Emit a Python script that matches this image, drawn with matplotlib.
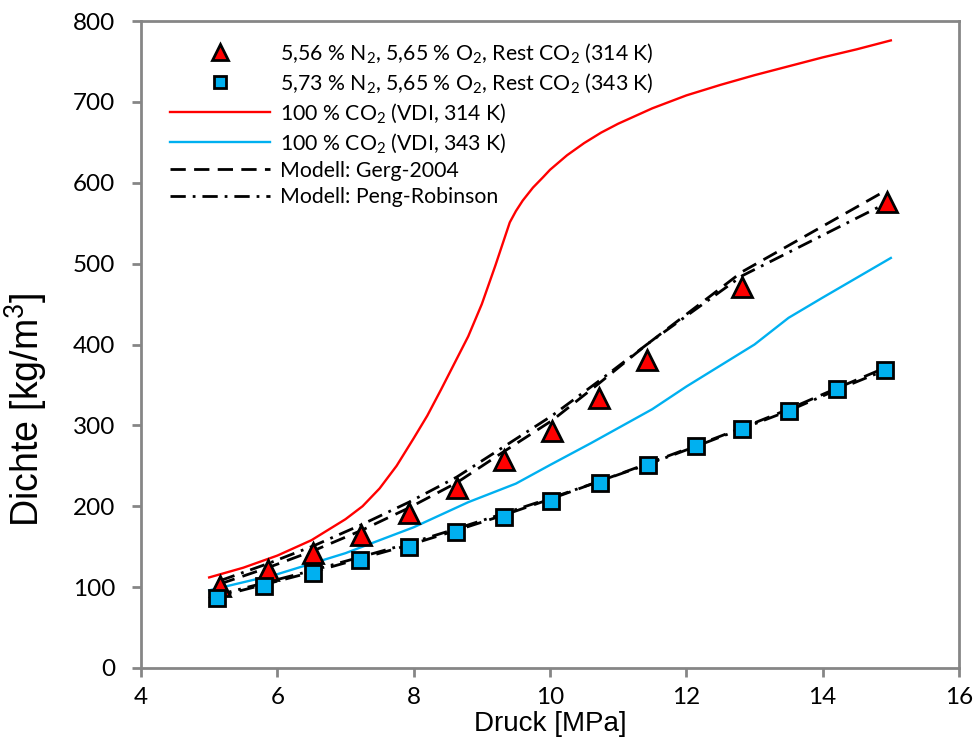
import matplotlib
matplotlib.use('Agg')
import matplotlib.pyplot as plt

# measured points, 314 K mixture (triangles)
p_314 = [5.16, 5.86, 6.53, 7.23, 7.93, 8.63, 9.33, 10.03, 10.72, 11.42, 12.82, 14.94]
rho_314 = [102, 121, 142, 165, 192, 222, 257, 293, 334, 381, 471, 576]
# model curves at the 314 K points
gerg_314 = [104, 124, 145, 170, 198, 229, 268, 306, 352, 400, 490, 591]
pr_314 = [108, 129, 151, 177, 205, 236, 274, 312, 355, 400, 485, 575]

# measured points, 343 K mixture (squares)
p_343 = [5.11, 5.80, 6.53, 7.21, 7.93, 8.62, 9.32, 10.01, 10.73, 11.44, 12.14, 12.82, 13.50, 14.21, 14.91]
rho_343 = [86, 101, 117, 133, 150, 168, 187, 207, 229, 251, 274, 295, 318, 345, 369]
gerg_343 = [88, 103, 119, 135, 152, 170, 189, 209, 231, 253, 275, 297, 320, 346, 371]
pr_343 = [90, 105, 121, 137, 154, 172, 191, 210, 231, 252, 274, 296, 318, 344, 368]

# pure CO2 (VDI)
p_vdi314 = [5.0, 5.5, 6.0, 6.5, 7.0, 7.25, 7.5, 7.75, 8.0, 8.2, 8.4, 8.6, 8.8, 9.0, 9.2, 9.41,
            9.5, 9.6, 9.75, 9.9, 10.0, 10.25, 10.5, 10.75, 11.0, 11.5, 12.0, 12.5, 13.0, 13.5,
            14.0, 14.5, 15.0]
rho_vdi314 = [112, 124, 139, 158, 184, 200, 222, 250, 284, 312, 344, 377, 410, 450, 498, 551,
              565, 578, 594, 607, 616, 634, 649, 662, 673, 692, 708, 721, 733, 744,
              755, 765, 776]
p_vdi343 = [5.0, 6.0, 7.0, 8.0, 8.8, 9.5, 10.0, 10.6, 11.5, 12.0, 13.0, 13.5, 14.0, 15.0]
rho_vdi343 = [96, 116, 142, 174, 205, 228, 251, 278, 320, 348, 400, 433, 458, 507]

lab_tri = '5,56 % N$_2$, 5,65 % O$_2$, Rest CO$_2$ (314 K)'
lab_sq = '5,73 % N$_2$, 5,65 % O$_2$, Rest CO$_2$ (343 K)'

plt.rcParams['font.family'] = ['Lato', 'DejaVu Sans']
plt.rcParams['mathtext.fontset'] = 'custom'
plt.rcParams['mathtext.rm'] = 'Lato'
plt.rcParams['mathtext.it'] = 'Lato'

fig = plt.figure(figsize=(9.73, 7.44), dpi=100)
ax = fig.add_axes([141/973, 1-668/744, (959-141)/973, (668-21)/744])

red = '#FF0000'
blue = '#00B0F0'
dash = (0, (5.5, 3))
dashdot = (0, (5.5, 2.5, 1, 2.5))

ax.plot(p_vdi314, rho_vdi314, color=red, lw=1.7, label='100 % CO$_2$ (VDI, 314 K)', zorder=2)
ax.plot(p_vdi343, rho_vdi343, color=blue, lw=1.7, label='100 % CO$_2$ (VDI, 343 K)', zorder=2)

ax.plot(p_314, gerg_314, color='black', lw=2, ls=dash, label='Modell: Gerg-2004', zorder=3)
ax.plot(p_314, pr_314, color='black', lw=2, ls=dashdot, label='Modell: Peng-Robinson', zorder=3)
ax.plot(p_343, gerg_343, color='black', lw=2, ls=dash, zorder=3)
ax.plot(p_343, pr_343, color='black', lw=2, ls=dashdot, zorder=3)

ax.plot(p_314, rho_314, ls='none', marker='^', ms=14, mfc=red, mec='black', mew=2, label=lab_tri, zorder=4)
ax.plot(p_343, rho_343, ls='none', marker='s', ms=11, mfc=blue, mec='black', mew=2, label=lab_sq, zorder=4)

ax.set_xlim(4, 16)
ax.set_ylim(0, 800)
ax.set_xticks(range(4, 17, 2))
ax.set_yticks(range(0, 801, 100))

for s in ax.spines.values():
    s.set_color('#868686')
    s.set_linewidth(2)
ax.tick_params(axis='both', which='major', direction='out', length=6.5, width=2,
               color='#868686', labelsize=17.5, labelcolor='black')
ax.tick_params(axis='y', pad=12)
ax.tick_params(axis='x', pad=7)
ax.tick_params(top=False, right=False)

ax.set_xlabel('Druck [MPa]', fontsize=20, family=['Liberation Sans', 'DejaVu Sans'], labelpad=2)
ax.set_ylabel('Dichte [kg/m$^3$]', fontsize=27, family=['Liberation Sans', 'DejaVu Sans'])
# label sits a bit below the axis centre, as in the source chart
ax.yaxis.set_label_coords(-0.113, 0.40)

h, l = ax.get_legend_handles_labels()
order = [l.index(lab_tri), l.index(lab_sq), 0, 1, 2, 3]
ax.legend([h[i] for i in order], [l[i] for i in order], loc='upper left',
          bbox_to_anchor=(170/973, 1-41/744), bbox_transform=fig.transFigure,
          frameon=False, fontsize=15.3, handlelength=4.7, handletextpad=0.5,
          labelspacing=0.3, borderpad=0, borderaxespad=0, markerscale=0.85)

fig.savefig('out.png', dpi=100)
